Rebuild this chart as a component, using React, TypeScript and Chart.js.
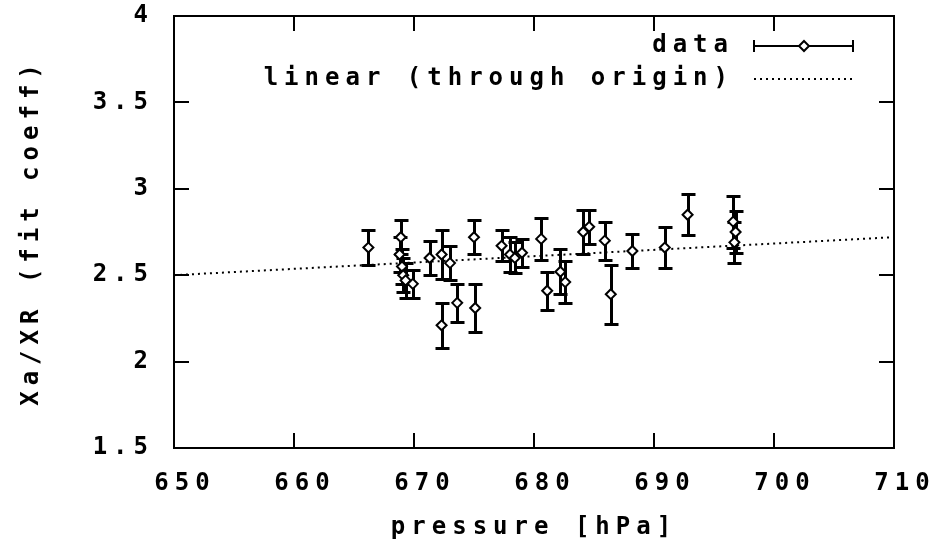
import React, { useEffect, useRef } from "react";
import { Chart, registerables } from "chart.js";

Chart.register(...registerables);

// measured points
const pressure = [
  666.2, 668.9, 668.8, 669.0, 669.1, 669.3, 669.9, 671.3, 672.3, 673.0,
  672.3, 673.6, 675.0, 675.1, 677.3, 678.0, 678.4, 679.0, 680.6, 681.1,
  682.2, 682.6, 684.1, 684.6, 685.9, 686.4, 688.2, 690.9, 692.8, 696.6,
  696.8, 696.7,
];
const ratio = [
  2.66, 2.72, 2.62, 2.55, 2.50, 2.47, 2.45, 2.60, 2.62, 2.57,
  2.21, 2.34, 2.72, 2.31, 2.67, 2.62, 2.60, 2.63, 2.71, 2.41,
  2.52, 2.46, 2.75, 2.78, 2.70, 2.39, 2.64, 2.66, 2.85, 2.81,
  2.75, 2.69,
];
const ratioErr = [
  0.10, 0.10, 0.10, 0.10, 0.10, 0.10, 0.08, 0.10, 0.14, 0.10,
  0.13, 0.11, 0.10, 0.14, 0.09, 0.10, 0.09, 0.08, 0.12, 0.11,
  0.13, 0.12, 0.13, 0.10, 0.11, 0.17, 0.10, 0.12, 0.12, 0.15,
  0.12, 0.12,
];

// linear fit through origin (read at the plot edges)
const fitPressure = [650, 710];
const fitRatio = [2.5, 2.72];

const X_MIN = 650;
const X_MAX = 710;
const X_STEP = 10;
const Y_MIN = 1.5;
const Y_MAX = 4;
const Y_STEP = 0.5;

const X_TITLE = "pressure [hPa]";
const Y_TITLE = "Xa/XR (fit coeff)";
const LEGEND_DATA = "data";
const LEGEND_FIT = "linear (through origin)";

const FAMILY = "'DejaVu Sans Mono', 'Liberation Mono', monospace";
const FONT = { family: FAMILY, size: 24, weight: "bold" as const };
const LETTER_SPACING = "6px";

const gnuplotPlugin = {
  id: "gnuplotLook",
  beforeDraw(chart: any) {
    chart.ctx.letterSpacing = LETTER_SPACING;
  },
  beforeDatasetsDraw(chart: any) {
    const { ctx } = chart;
    const x = chart.scales.x;
    const y = chart.scales.y;
    ctx.save();
    ctx.strokeStyle = "#000";
    ctx.lineWidth = 3;
    ctx.beginPath();
    pressure.forEach((p, i) => {
      const px = Math.round(x.getPixelForValue(p)) + 0.5;
      const top = Math.round(y.getPixelForValue(ratio[i] + ratioErr[i])) + 0.5;
      const bot = Math.round(y.getPixelForValue(ratio[i] - ratioErr[i])) + 0.5;
      ctx.moveTo(px, top);
      ctx.lineTo(px, bot);
      ctx.moveTo(px - 7, top);
      ctx.lineTo(px + 7, top);
      ctx.moveTo(px - 7, bot);
      ctx.lineTo(px + 7, bot);
    });
    ctx.stroke();
    ctx.restore();
  },
  afterDraw(chart: any) {
    const { ctx, chartArea } = chart;
    const { left, right, top, bottom } = chartArea;
    const x = chart.scales.x;
    const y = chart.scales.y;
    ctx.save();
    ctx.strokeStyle = "#000";
    ctx.lineWidth = 2;
    ctx.strokeRect(left, top, right - left, bottom - top);
    const TL = 15;
    ctx.beginPath();
    x.ticks.forEach((t: any) => {
      const px = Math.round(x.getPixelForValue(t.value));
      ctx.moveTo(px, bottom);
      ctx.lineTo(px, bottom - TL);
      ctx.moveTo(px, top);
      ctx.lineTo(px, top + TL);
    });
    y.ticks.forEach((t: any) => {
      const py = Math.round(y.getPixelForValue(t.value));
      ctx.moveTo(left, py);
      ctx.lineTo(left + TL, py);
      ctx.moveTo(right, py);
      ctx.lineTo(right - TL, py);
    });
    ctx.stroke();

    // legend
    ctx.letterSpacing = LETTER_SPACING;
    ctx.font = `bold 24px ${FAMILY}`;
    ctx.fillStyle = "#000";
    ctx.textAlign = "right";
    ctx.textBaseline = "middle";
    const textX = 734;
    const y1 = 46;
    const y2 = 79;
    ctx.fillText(LEGEND_DATA, textX, y1);
    ctx.fillText(LEGEND_FIT, textX, y2);

    const s0 = 754;
    const s1 = 853;
    ctx.beginPath();
    ctx.moveTo(s0, y1);
    ctx.lineTo(s1, y1);
    ctx.moveTo(s0, y1 - 6);
    ctx.lineTo(s0, y1 + 6);
    ctx.moveTo(s1, y1 - 6);
    ctx.lineTo(s1, y1 + 6);
    ctx.stroke();
    const cx = Math.round((s0 + s1) / 2);
    ctx.fillStyle = "#fff";
    ctx.lineWidth = 2;
    ctx.beginPath();
    ctx.moveTo(cx, y1 - 5);
    ctx.lineTo(cx + 5, y1);
    ctx.lineTo(cx, y1 + 5);
    ctx.lineTo(cx - 5, y1);
    ctx.closePath();
    ctx.fill();
    ctx.stroke();

    ctx.lineWidth = 2;
    ctx.setLineDash([2, 4]);
    ctx.beginPath();
    ctx.moveTo(s0, y2);
    ctx.lineTo(s1, y2);
    ctx.stroke();
    ctx.restore();
  },
};

export default function App() {
  const canvasRef = useRef<HTMLCanvasElement | null>(null);

  useEffect(() => {
    const canvas = canvasRef.current;
    if (!canvas) return;
    const chart = new Chart(canvas, {
      type: "scatter",
      data: {
        datasets: [
          {
            label: LEGEND_FIT,
            data: fitPressure.map((p, i) => ({ x: p, y: fitRatio[i] })),
            showLine: true,
            borderColor: "#000",
            borderWidth: 2,
            borderDash: [2, 4],
            pointRadius: 0,
            order: 2,
          },
          {
            label: LEGEND_DATA,
            data: pressure.map((p, i) => ({ x: p, y: ratio[i] })),
            pointStyle: "rectRot",
            pointRadius: 5,
            pointBorderWidth: 2,
            pointBackgroundColor: "#fff",
            pointBorderColor: "#000",
            showLine: false,
            order: 1,
          },
        ],
      },
      options: {
        animation: false,
        responsive: false,
        devicePixelRatio: 1,
        layout: { padding: { top: 16, right: 53, left: 0, bottom: 0 } },
        plugins: {
          legend: { display: false },
          tooltip: { enabled: false },
        },
        scales: {
          x: {
            type: "linear",
            min: X_MIN,
            max: X_MAX,
            ticks: {
              stepSize: X_STEP,
              font: FONT,
              color: "#000",
              padding: 13,
              maxRotation: 0,
              autoSkip: false,
              labelOffset: 11,
            },
            grid: { display: false },
            border: { display: false },
            title: {
              display: true,
              text: X_TITLE,
              font: FONT,
              color: "#000",
              padding: { top: 0, bottom: 2 },
            },
            afterFit(scale: any) {
              scale.height = 96;
              scale.paddingLeft = 0;
              scale.paddingRight = 0;
            },
          },
          y: {
            type: "linear",
            min: Y_MIN,
            max: Y_MAX,
            ticks: {
              stepSize: Y_STEP,
              font: FONT,
              color: "#000",
              padding: 12,
              callback: (v: any) => String(Number(v)),
            },
            grid: { display: false },
            border: { display: false },
            title: {
              display: true,
              text: Y_TITLE,
              font: FONT,
              color: "#000",
              padding: { top: 17, bottom: 0 },
            },
            afterFit(scale: any) {
              scale.width = 174;
              scale.paddingTop = 0;
              scale.paddingBottom = 0;
            },
          },
        },
      },
      plugins: [gnuplotPlugin],
    });
    return () => chart.destroy();
  }, []);

  return (
    <div style={{ position: "fixed", left: 0, top: 0, width: 947, height: 544, background: "#fff" }}>
      <canvas ref={canvasRef} width={947} height={544} style={{ display: "block" }} />
    </div>
  );
}
